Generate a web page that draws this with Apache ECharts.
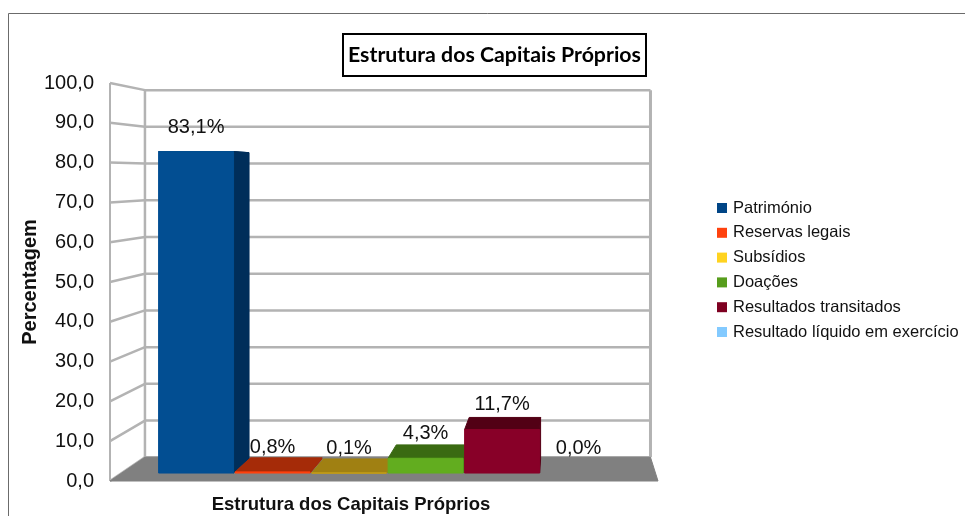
<!DOCTYPE html>
<html>
<head>
<meta charset="utf-8">
<style>
  html, body { margin: 0; padding: 0; background: #fff; overflow: hidden; }
  #chart { width: 965px; height: 516px; }
</style>
<script src="https://cdn.jsdelivr.net/npm/echarts@6/dist/echarts.min.js"></script>
</head>
<body>
<div id="chart"></div>
<script>
const categories = ['Estrutura dos Capitais Próprios']
const seriesNames = ['Património', 'Reservas legais', 'Subsídios', 'Doações', 'Resultados transitados', 'Resultado líquido em exercício']
const seriesValues = [83.1, 0.8, 0.1, 4.3, 11.7, 0.0]
const yTicks = [0, 10, 20, 30, 40, 50, 60, 70, 80, 90, 100]

const baseColors = ['#004586', '#ff420e', '#ffd320', '#579d1c', '#7e0021', '#83caff']
const frontColors = ['#024e92', '#ff420e', '#c8a018', '#62ad1f', '#880028', '#83caff']
const shadeColors = ['#002e5a', '#a52b08', '#a08012', '#3a6a12', '#520015', '#5a8cb0']

const FONT = '"Liberation Sans", Arial, sans-serif'

// fake 3D: everything is scaled towards a vanishing point from the grid plane
const VP = [561, 175]
const WALL_S = 0.9225
const BAR_FRONT_S = 0.974
const BAR_BACK_S = 0.928
const GROUP_RATIO = 0.86
const BAR_WIDTH_RATIO = 0.98
const BAR_SHIFT = -0.5
// the rounded bar edges eat a little of the height
const TOP_INSET = 2
const HEIGHT_SCALE = 1.004

function proj(p, s) {
  return [VP[0] + s * (p[0] - VP[0]), VP[1] + s * (p[1] - VP[1])]
}

function poly(points, fill) {
  return { type: 'polygon', shape: { points }, style: { fill, stroke: fill, lineWidth: 1, lineJoin: 'round' }, silent: true }
}

function renderWalls(params, api) {
  const cs = params.coordSys
  const y = api.coord([0, api.value(1)])[1]
  const a = [cs.x, y]
  const b = proj(a, WALL_S)
  const c = proj([cs.x + cs.width, y], WALL_S)
  const style = { stroke: '#b3b3b3', lineWidth: 2.5, fill: null, lineJoin: 'round' }
  const children = [{ type: 'polyline', shape: { points: [a, b, c] }, style, silent: true }]
  if (api.value(1) === 100) {
    const b0 = proj([cs.x, cs.y + cs.height], WALL_S)
    const c0 = proj([cs.x + cs.width, cs.y + cs.height], WALL_S)
    children.push({ type: 'polyline', shape: { points: [[cs.x, cs.y], [cs.x, cs.y + cs.height]] }, style: { ...style, lineWidth: 2 }, silent: true })
    children.push({ type: 'polyline', shape: { points: [b, b0] }, style, silent: true })
    children.push({ type: 'polyline', shape: { points: [c, c0] }, style: { ...style, lineWidth: 3 }, silent: true })
  }
  return { type: 'group', children }
}

function renderFloor(params) {
  const cs = params.coordSys
  const l = [cs.x, cs.y + cs.height]
  const r = [cs.x + cs.width, cs.y + cs.height]
  return poly([l, r, proj(r, WALL_S), proj(l, WALL_S)], '#808080')
}

function renderBar(i) {
  return function (params, api) {
    const v = api.value(1)
    const center = api.coord([0, 0])[0]
    const base = api.coord([0, 0])[1]
    const rawTop = api.coord([0, v])[1]
    const top = Math.min(base, base - (base - rawTop) * HEIGHT_SCALE + TOP_INSET)
    const slot = api.size([1, 0])[0] * GROUP_RATIO / seriesValues.length
    const x0 = center - slot * seriesValues.length / 2 + i * slot + BAR_SHIFT
    const x1 = x0 + slot * BAR_WIDTH_RATIO

    const fbl = proj([x0, base], BAR_FRONT_S)
    const fbr = proj([x1, base], BAR_FRONT_S)
    const ftl = proj([x0, top], BAR_FRONT_S)
    const ftr = proj([x1, top], BAR_FRONT_S)
    const bbr = proj([x1, base], BAR_BACK_S)
    const btl = proj([x0, top], BAR_BACK_S)
    const btr = proj([x1, top], BAR_BACK_S)

    const children = []
    if (v > 0) {
      children.push(poly([ftl, ftr, btr, btl], shadeColors[i]))
      children.push(poly([fbr, ftr, btr, bbr], shadeColors[i]))
      children.push(poly([fbl, fbr, ftr, ftl], frontColors[i]))
    }
    children.push({
      type: 'text',
      silent: true,
      z2: 100,
      style: {
        x: (ftl[0] + ftr[0]) / 2,
        y: ftl[1] - 24.5,
        text: v.toFixed(1).replace('.', ',') + '%',
        font: '20px ' + FONT,
        fill: '#111',
        align: 'center',
        verticalAlign: 'middle'
      }
    })
    return { type: 'group', children }
  }
}

const barSeries = seriesNames.map((name, i) => ({
  name,
  type: 'custom',
  coordinateSystem: 'cartesian2d',
  renderItem: renderBar(i),
  data: [[0, seriesValues[i]]],
  encode: { x: 0, y: 1 },
  itemStyle: { color: baseColors[i] },
  z: 5 + i
}))

const chart = echarts.init(document.getElementById('chart'), null, { renderer: 'canvas' })
chart.setOption({
  animation: false,
  backgroundColor: '#fff',
  graphic: [{
    type: 'rect',
    shape: { x: 8.5, y: 13.5, width: 1200, height: 800 },
    style: { fill: null, stroke: '#6b6b6b', lineWidth: 1 },
    silent: true,
    z: -1
  }],
  title: {
    text: 'Estrutura dos Capitais Próprios',
    left: 343,
    top: 34,
    padding: [9, 5, 9, 5],
    borderColor: '#000',
    borderWidth: 2,
    textStyle: { fontFamily: 'Lato', fontWeight: 'bold', fontSize: 21.3, color: '#000', lineHeight: 24 }
  },
  legend: {
    orient: 'vertical',
    left: 712,
    top: 194,
    data: seriesNames,
    icon: 'rect',
    itemWidth: 10,
    itemHeight: 10,
    itemGap: 6.8,
    selectedMode: false,
    textStyle: { fontFamily: FONT, fontSize: 16.5, color: '#111', lineHeight: 18, padding: [0, 0, 0, 1] }
  },
  grid: { left: 110, top: 83, width: 548, height: 398 },
  xAxis: {
    type: 'category',
    data: categories,
    axisLine: { show: false },
    axisTick: { show: false },
    splitLine: { show: false },
    axisLabel: {
      interval: 0,
      margin: 14,
      padding: [0, 66, 0, 0],
      fontFamily: FONT,
      fontWeight: 'bold',
      fontSize: 18.5,
      color: '#111'
    }
  },
  yAxis: {
    type: 'value',
    min: 0,
    max: 100,
    interval: 10,
    name: 'Percentagem',
    nameLocation: 'middle',
    nameGap: 70,
    nameMoveOverlap: false,
    nameTextStyle: { fontFamily: FONT, fontWeight: 'bold', fontSize: 20, color: '#111' },
    axisLine: { show: false },
    axisTick: { show: false },
    splitLine: { show: false },
    axisLabel: {
      margin: 16,
      fontFamily: FONT,
      fontSize: 20,
      color: '#111',
      formatter: v => v.toFixed(1).replace('.', ',')
    }
  },
  series: [
    {
      name: 'walls',
      type: 'custom',
      coordinateSystem: 'cartesian2d',
      renderItem: renderWalls,
      data: yTicks.map(t => [0, t]),
      encode: { x: 0, y: 1 },
      z: 1
    },
    {
      name: 'floor',
      type: 'custom',
      coordinateSystem: 'cartesian2d',
      renderItem: renderFloor,
      data: [[0, 0]],
      encode: { x: 0, y: 1 },
      z: 2
    },
    ...barSeries
  ]
})
</script>
</body>
</html>
